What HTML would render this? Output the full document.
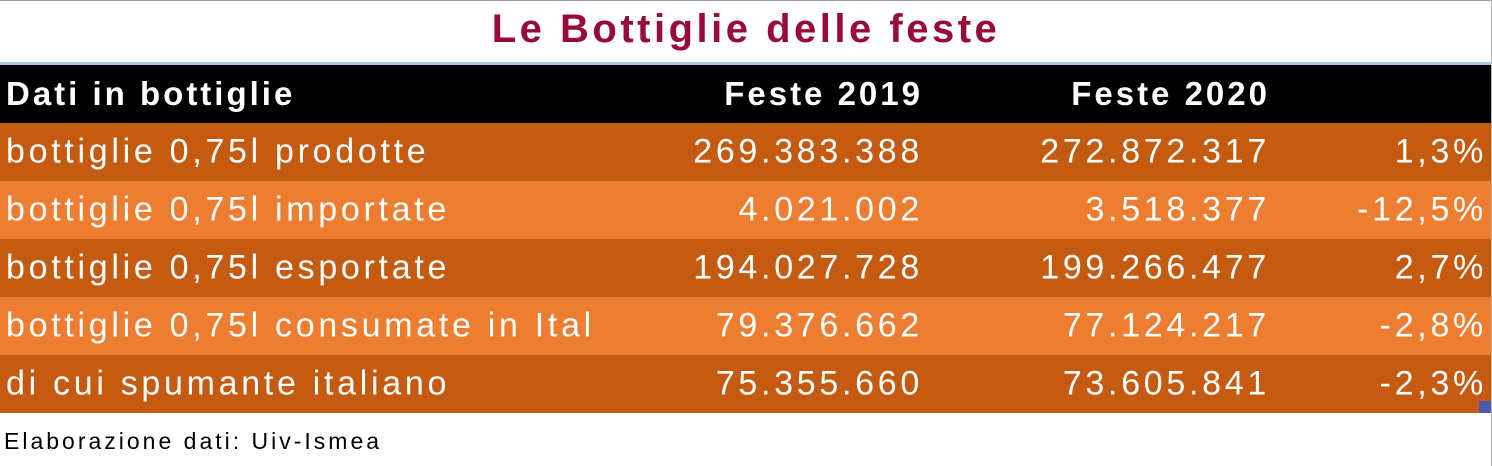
<!DOCTYPE html>
<html><head><meta charset="utf-8"><style>
body{margin:0;width:1492px;height:466px;background:#fff;position:relative;overflow:hidden;font-family:"Liberation Sans",sans-serif;}
.abs{position:absolute;}
.row{position:absolute;left:0;width:1491px;height:58px;color:#fff;font-size:34px;letter-spacing:3.7px;}
.row span{position:absolute;top:50%;transform:translateY(-50%);white-space:nowrap;}
.l{left:6px}
.c1{right:568px}
.c2{right:221px}
.c3{right:4px}
</style></head><body>
<div class="abs" style="left:0;top:0;width:1492px;height:1px;background:#999"></div>
<div class="abs" style="left:1491px;top:0;width:1px;height:466px;background:#bbb"></div>
<div class="abs" style="left:0;top:7px;width:1492px;text-align:center;font-size:40px;letter-spacing:3.5px;font-weight:bold;color:#990a3c">Le Bottiglie delle feste</div>
<div class="abs" style="left:0;top:62px;width:1491px;height:3px;background:#a9c8e6"></div>
<div class="row" style="top:65px;height:58px;background:#000;font-weight:bold;font-size:33px;letter-spacing:3px">
<span class="l">Dati in bottiglie</span>
<span class="c1">Feste 2019</span>
<span class="c2">Feste 2020</span>
</div>
<div class="row" style="top:123px;background:#c55a11"><span class="l">bottiglie 0,75l prodotte</span><span class="c1">269.383.388</span><span class="c2">272.872.317</span><span class="c3">1,3%</span></div>
<div class="row" style="top:181px;background:#ed7d31"><span class="l">bottiglie 0,75l importate</span><span class="c1">4.021.002</span><span class="c2">3.518.377</span><span class="c3">-12,5%</span></div>
<div class="row" style="top:239px;background:#c55a11"><span class="l">bottiglie 0,75l esportate</span><span class="c1">194.027.728</span><span class="c2">199.266.477</span><span class="c3">2,7%</span></div>
<div class="row" style="top:297px;background:#ed7d31"><span class="l">bottiglie 0,75l consumate in Ital</span><span class="c1">79.376.662</span><span class="c2">77.124.217</span><span class="c3">-2,8%</span></div>
<div class="row" style="top:355px;background:#c55a11"><span class="l">di cui spumante italiano</span><span class="c1">75.355.660</span><span class="c2">73.605.841</span><span class="c3">-2,3%</span></div>
<div class="abs" style="left:1479px;top:401px;width:12px;height:12px;background:#4a5bb0"></div>
<div class="abs" style="left:4px;top:428px;font-size:23px;letter-spacing:3px;color:#000">Elaborazione dati: Uiv-Ismea</div>
</body></html>
